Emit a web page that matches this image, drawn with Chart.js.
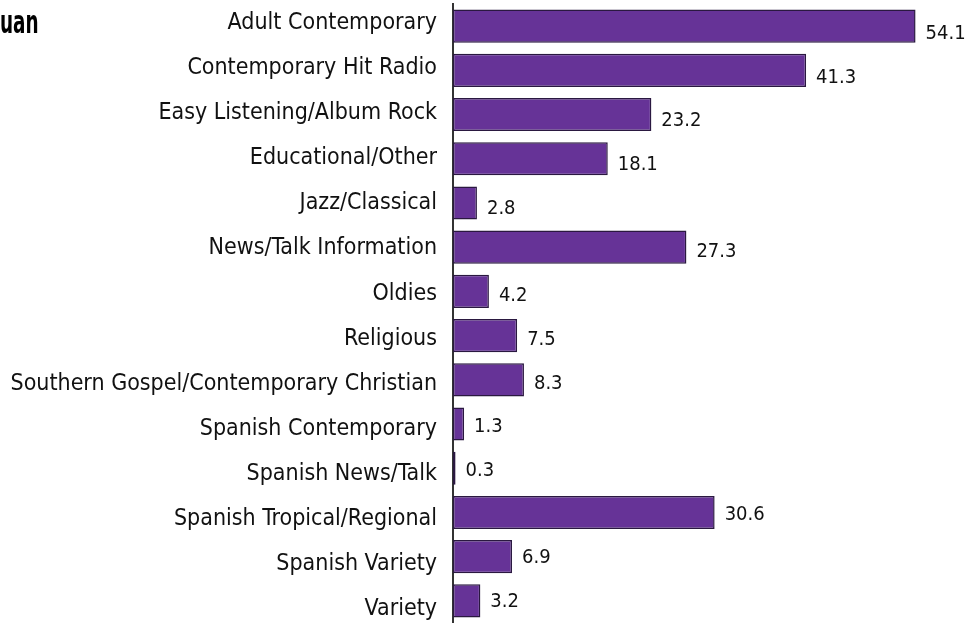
<!DOCTYPE html>
<html>
<head>
<meta charset="utf-8">
<script src="https://cdn.jsdelivr.net/npm/chart.js@4/dist/chart.umd.min.js"></script>
<style>
  html, body { margin: 0; padding: 0; background: #fff; overflow: hidden; }
  #wrap { width: 969px; height: 623px; position: relative; }
</style>
</head>
<body>
<div id="wrap"><canvas id="formats"></canvas></div>
<script>
// radio station formats, share by format
const formats = [
    "Adult Contemporary",
    "Contemporary Hit Radio",
    "Easy Listening/Album Rock",
    "Educational/Other",
    "Jazz/Classical",
    "News/Talk Information",
    "Oldies",
    "Religious",
    "Southern Gospel/Contemporary Christian",
    "Spanish Contemporary",
    "Spanish News/Talk",
    "Spanish Tropical/Regional",
    "Spanish Variety",
    "Variety"
];
const shares = [54.1, 41.3, 23.2, 18.1, 2.8, 27.3, 4.2, 7.5, 8.3, 1.3, 0.3, 30.6, 6.9, 3.2];
const titleText = "uan";

const fontFamily = "'DejaVu Sans Condensed', 'DejaVu Sans', sans-serif";

// numbers printed next to each bar end, rows taken from the hidden valueRows scale
const valueLabels = {
    id: "valueLabels",
    afterDatasetsDraw(chart) {
        const ctx = chart.ctx;
        const meta = chart.getDatasetMeta(0);
        const rows = chart.scales.valueRows;
        ctx.save();
        ctx.font = "20px " + fontFamily;
        ctx.fillStyle = "#111";
        ctx.textAlign = "left";
        ctx.textBaseline = "middle";
        meta.data.forEach((bar, i) => {
            ctx.fillText(shares[i].toFixed(1), bar.x + 10, rows.getPixelForValue(i));
        });
        ctx.restore();
    }
};

// heading in the top-left corner, squeezed to a condensed bold look
const heading = {
    id: "heading",
    afterDraw(chart) {
        const ctx = chart.ctx;
        ctx.save();
        ctx.font = "bold 32px " + fontFamily;
        ctx.fillStyle = "#000";
        ctx.textAlign = "left";
        ctx.textBaseline = "alphabetic";
        ctx.scale(0.64, 1);
        ctx.fillText(titleText, 0, 33);
        ctx.restore();
    }
};

new Chart(document.getElementById("formats"), {
    type: "bar",
    data: {
        labels: formats,
        datasets: [{
            data: shares,
            backgroundColor: "#663397",
            borderColor: "#2a1840",
            borderWidth: 1.5,
            borderSkipped: false,
            barPercentage: 0.75,
            categoryPercentage: 1.0
        }]
    },
    options: {
        indexAxis: "y",
        responsive: true,
        maintainAspectRatio: false,
        animation: false,
        layout: { padding: { top: 4, right: 3, bottom: 0, left: 0 } },
        plugins: {
            legend: { display: false },
            tooltip: { enabled: false }
        },
        scales: {
            x: {
                min: 0,
                max: 60,
                display: false
            },
            // category axis that places the bars; only its line is shown
            y: {
                weight: 0,
                afterFit(scale) {
                    scale.width = 0;
                    scale.paddingTop = 0;
                    scale.paddingBottom = 0;
                },
                grid: { display: false, drawTicks: false },
                border: { display: true, color: "#333", width: 2 },
                ticks: { display: false }
            },
            // format names sit on their own slightly wider row spacing
            names: {
                type: "linear",
                position: "left",
                weight: 1,
                reverse: true,
                offset: false,
                bounds: "data",
                min: -0.421,
                max: 13.304,
                afterBuildTicks(scale) {
                    scale.ticks = formats.map((f, i) => ({ value: i }));
                },
                afterFit(scale) {
                    scale.width = 453;
                    scale.paddingTop = 0;
                    scale.paddingBottom = 0;
                },
                grid: { display: false, drawTicks: false },
                border: { display: false },
                ticks: {
                    autoSkip: false,
                    padding: 16,
                    color: "#111",
                    font: { family: fontFamily, size: 23 },
                    callback: (v) => formats[v]
                }
            },
            // hidden row scale for the value labels
            valueRows: {
                type: "linear",
                position: "right",
                display: false,
                reverse: true,
                offset: false,
                bounds: "data",
                min: -0.68,
                max: 13.485
            }
        }
    },
    plugins: [valueLabels, heading]
});
</script>
</body>
</html>
